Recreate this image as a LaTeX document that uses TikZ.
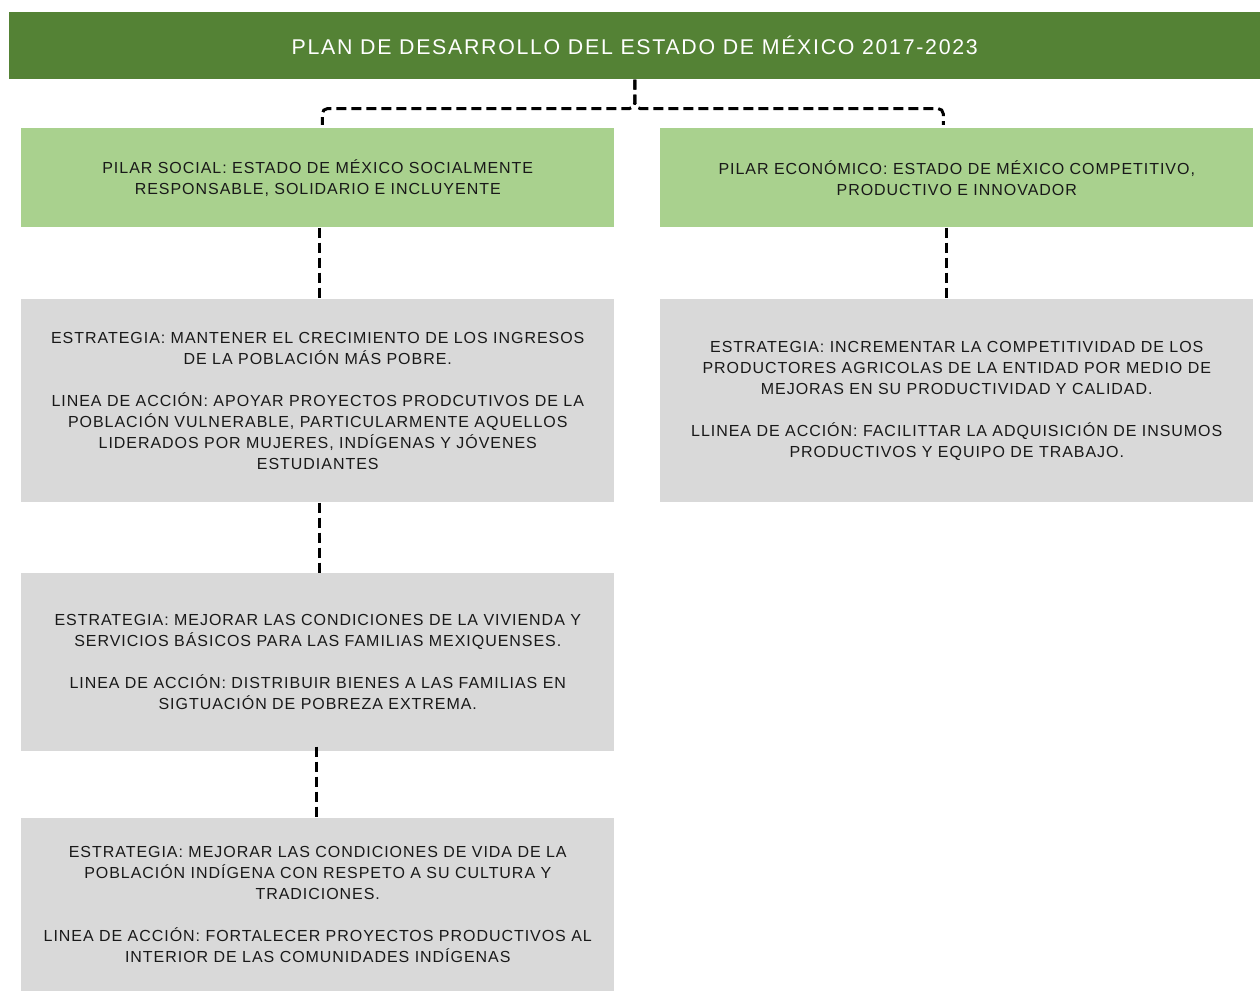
\documentclass[tikz,border=0pt]{standalone}
\usepackage{fontspec}
\setmainfont{Liberation Sans}
\newfontfamily\boxfont[LetterSpace=6]{Liberation Sans}
\newfontfamily\planfont[LetterSpace=8]{Liberation Sans}
\usepackage{tikz}
\usetikzlibrary{calc}
\definecolor{plangreen}{RGB}{84,130,53}
\definecolor{pilargreen}{RGB}{169,209,142}
\definecolor{boxgray}{RGB}{217,217,217}
\definecolor{boxtext}{RGB}{25,25,25}

\tikzset{
  titlebar/.style={fill=plangreen, text=white, anchor=north west, inner sep=0pt,
    minimum width=938.25pt, minimum height=50.25pt, font=\planfont\fontsize{16}{19}\selectfont},
  pilarbox/.style={fill=pilargreen, text=boxtext, anchor=north west, inner sep=0pt,
    minimum width=444.75pt, minimum height=74.25pt, align=center,
    font=\boxfont\fontsize{12}{15.75}\selectfont},
  estrabox/.style={fill=boxgray, text=boxtext, anchor=north west, inner sep=0pt,
    minimum width=444.75pt, align=center, font=\boxfont\fontsize{12}{15.75}\selectfont},
  dashlink/.style={line width=2.25pt, dash pattern=on 7.5pt off 3.75pt}
}

\begin{document}
\begin{tikzpicture}[x=0.75pt, y=-0.75pt]
      \useasboundingbox (0,0) rectangle (1260,991);
      \node[titlebar] (plan) at (9,12) {PLAN DE DESARROLLO DEL ESTADO DE MÉXICO 2017-2023};
      \node[pilarbox] (social) at (21,128) {PILAR SOCIAL: ESTADO DE MÉXICO SOCIALMENTE\\RESPONSABLE, SOLIDARIO E INCLUYENTE};
      \node[pilarbox] (economico) at (660,128) {PILAR ECONÓMICO: ESTADO DE MÉXICO COMPETITIVO,\\PRODUCTIVO E INNOVADOR};
      \node[estrabox, minimum height=152.25pt] (ingresos) at (21,299) {ESTRATEGIA: MANTENER EL CRECIMIENTO DE LOS INGRESOS\\DE LA POBLACIÓN MÁS POBRE.\\[15.75pt]LINEA DE ACCIÓN: APOYAR PROYECTOS PRODCUTIVOS DE LA\\POBLACIÓN VULNERABLE, PARTICULARMENTE AQUELLOS\\LIDERADOS POR MUJERES, INDÍGENAS Y JÓVENES\\ESTUDIANTES};
      \node[estrabox, minimum height=152.25pt] (agricola) at (660,299) {ESTRATEGIA: INCREMENTAR LA COMPETITIVIDAD DE LOS\\PRODUCTORES AGRICOLAS DE LA ENTIDAD POR MEDIO DE\\MEJORAS EN SU PRODUCTIVIDAD Y CALIDAD.\\[15.75pt]LLINEA DE ACCIÓN: FACILITTAR LA ADQUISICIÓN DE INSUMOS\\PRODUCTIVOS Y EQUIPO DE TRABAJO.};
      \node[estrabox, minimum height=133.5pt] (vivienda) at (21,573) {ESTRATEGIA: MEJORAR LAS CONDICIONES DE LA VIVIENDA Y\\SERVICIOS BÁSICOS PARA LAS FAMILIAS MEXIQUENSES.\\[15.75pt]LINEA DE ACCIÓN: DISTRIBUIR BIENES A LAS FAMILIAS EN\\SIGTUACIÓN DE POBREZA EXTREMA.};
      \node[estrabox, minimum height=129.75pt] (indigena) at (21,818) {ESTRATEGIA: MEJORAR LAS CONDICIONES DE VIDA DE LA\\POBLACIÓN INDÍGENA CON RESPETO A SU CULTURA Y\\TRADICIONES.\\[15.75pt]LINEA DE ACCIÓN: FORTALECER PROYECTOS PRODUCTIVOS AL\\INTERIOR DE LAS COMUNIDADES INDÍGENAS};
      \draw[dashlink, rounded corners=4] (plan.south) -- ++(0,29) -| ($(social.north)+(4.5,-3)$);
      \draw[dashlink, rounded corners=4] (plan.south) -- ++(0,29) -| ($(economico.north)+(-13.5,-3)$);
      \draw[dashlink] ($(social.south)+(1.5,0)$) -- ($(ingresos.north)+(1.5,0)$);
      \draw[dashlink] ($(economico.south)+(-10.5,0)$) -- ($(agricola.north)+(-10.5,0)$);
      \draw[dashlink] ($(ingresos.south)+(1.5,0)$) -- ($(vivienda.north)+(1.5,0)$);
      \draw[dashlink] ($(vivienda.south)+(-1.5,-5)$) -- ($(indigena.north)+(-1.5,0)$);
\end{tikzpicture}
\end{document}
